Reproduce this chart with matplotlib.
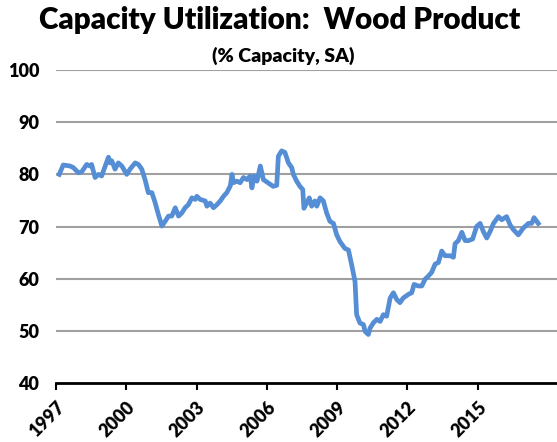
import matplotlib.pyplot as plt
import numpy as np

# decimal year positions (%)
years = [
    1997.14, 1997.31, 1997.60, 1997.74, 1997.96, 1998.10, 1998.31, 1998.45,
    1998.52, 1998.67, 1998.81, 1998.95, 1999.02, 1999.24, 1999.31, 1999.38,
    1999.52, 1999.66, 1999.81, 2000.02, 2000.16, 2000.38, 2000.52, 2000.66,
    2000.80, 2000.94, 2001.09, 2001.23, 2001.37, 2001.52, 2001.66, 2001.80,
    2001.94, 2002.09, 2002.23, 2002.37, 2002.51, 2002.65, 2002.80, 2002.94,
    2003.01, 2003.15, 2003.37, 2003.44, 2003.58, 2003.72, 2003.87, 2004.01,
    2004.15, 2004.29, 2004.44, 2004.51, 2004.58, 2004.72, 2004.86, 2005.00,
    2005.15, 2005.29, 2005.36, 2005.46, 2005.58, 2005.72, 2005.85, 2006.27,
    2006.42, 2006.49, 2006.63, 2006.77, 2006.92, 2007.06, 2007.13, 2007.27,
    2007.41, 2007.53, 2007.58, 2007.70, 2007.81, 2007.91, 2008.05, 2008.13,
    2008.27, 2008.41, 2008.55, 2008.69, 2008.84, 2008.98, 2009.12, 2009.33,
    2009.48, 2009.62, 2009.76, 2009.83, 2009.97, 2010.12, 2010.19, 2010.33,
    2010.40, 2010.54, 2010.69, 2010.83, 2010.97, 2011.11, 2011.26, 2011.40,
    2011.54, 2011.68, 2011.82, 2012.04, 2012.18, 2012.28, 2012.46, 2012.61,
    2012.75, 2012.89, 2013.03, 2013.18, 2013.32, 2013.46, 2013.60, 2013.82,
    2013.96, 2014.03, 2014.17, 2014.32, 2014.46, 2014.60, 2014.78, 2014.95,
    2015.10, 2015.24, 2015.38, 2015.52, 2015.67, 2015.88, 2016.02, 2016.23,
    2016.38, 2016.52, 2016.73, 2016.94, 2017.16, 2017.30, 2017.40, 2017.58,
]
utilization = [
    80.0, 81.8, 81.6, 81.3, 80.3, 80.5, 81.9, 81.6,
    81.9, 79.4, 80.0, 79.7, 80.6, 83.3, 82.2, 82.6,
    81.0, 82.2, 81.6, 80.0, 81.0, 82.2, 81.9, 81.0,
    79.0, 76.5, 76.5, 74.6, 72.3, 70.1, 71.0, 72.0,
    72.0, 73.6, 72.0, 72.6, 73.6, 74.2, 75.5, 75.2,
    75.8, 75.2, 74.9, 73.9, 74.5, 73.6, 74.2, 74.9,
    75.8, 76.5, 77.8, 80.0, 78.4, 78.7, 78.4, 79.4,
    79.0, 79.7, 77.4, 79.7, 78.7, 81.6, 79.0, 77.7,
    77.9, 83.5, 84.5, 84.2, 82.2, 81.3, 80.0, 78.7,
    77.7, 77.1, 73.5, 74.5, 75.5, 73.9, 74.9, 73.9,
    75.5, 74.9, 72.6, 71.0, 70.6, 68.4, 67.1, 65.8,
    65.5, 62.6, 59.5, 53.1, 51.5, 51.2, 49.9, 49.3,
    50.5, 51.5, 52.2, 51.8, 53.1, 52.8, 56.3, 57.3,
    56.0, 55.4, 56.3, 57.0, 57.3, 58.9, 58.6, 58.6,
    59.9, 60.5, 61.2, 62.8, 63.1, 65.3, 64.4, 64.4,
    64.1, 66.7, 67.3, 68.9, 67.3, 67.3, 67.6, 70.0,
    70.6, 69.0, 67.8, 69.0, 70.6, 71.9, 71.3, 71.9,
    70.3, 69.4, 68.4, 69.7, 70.6, 70.6, 71.7, 70.6,
]
tick_years = [1997, 2000, 2003, 2006, 2009, 2012, 2015]
y_ticks = [40, 50, 60, 70, 80, 90, 100]

plt.rcParams['font.family'] = ['Lato', 'DejaVu Sans']

fig = plt.figure(figsize=(5.57, 4.42), dpi=100)
ax = fig.add_axes([0.1005, 0.1335, 0.8995, 0.708])

for v in y_ticks[1:]:
    ax.axhline(v, color='#a0a0a0', lw=1.5, zorder=1)

ax.plot(years, utilization, color='#558ed5', lw=3.4, zorder=3,
        solid_joinstyle='round')

ax.set_xlim(1997, 2018.38)
ax.set_ylim(40, 100)
ax.set_yticks(y_ticks)
ax.set_xticks(tick_years)
ax.set_xticklabels([str(t) for t in tick_years], rotation=45,
                   ha='right', rotation_mode='anchor')

for s in ['top', 'right', 'left']:
    ax.spines[s].set_visible(False)
ax.spines['bottom'].set_linewidth(2)
ax.spines['bottom'].set_zorder(4)
ax.tick_params(axis='y', length=0, pad=12, labelsize=13)
ax.tick_params(axis='x', length=5, width=1.5, direction='out',
               labelsize=13, pad=6)
for lab in ax.get_xticklabels() + ax.get_yticklabels():
    lab.set_fontweight('heavy')

fig.text(0.502, 0.955, 'Capacity Utilization:  Wood Product',
         ha='center', va='center', fontsize=21.3, fontweight='heavy')
fig.text(0.508, 0.874, '(% Capacity, SA)',
         ha='center', va='center', fontsize=14, fontweight='heavy')

fig.savefig('out.png', dpi=100)
